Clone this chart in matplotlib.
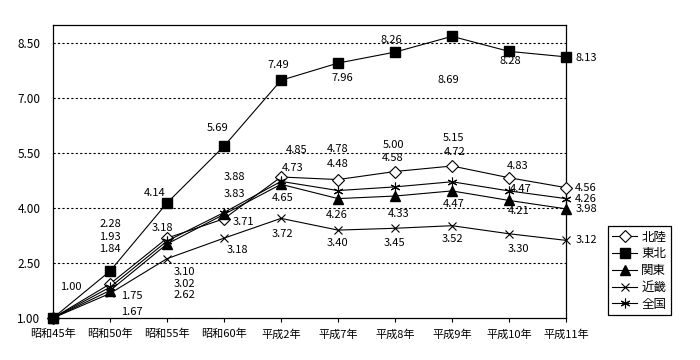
#!/usr/bin/env python3
"""Regional index chart (昭和45年 = 1.00) recreated with matplotlib."""

import matplotlib
matplotlib.use("Agg")
import matplotlib.pyplot as plt
import numpy as np

plt.rcParams["font.family"] = ["Noto Sans CJK JP", "DejaVu Sans"]

years = ["昭和45年", "昭和50年", "昭和55年", "昭和60年", "平成2年",
         "平成7年", "平成8年", "平成9年", "平成10年", "平成11年"]
hokuriku = [1.00, 1.93, 3.18, 3.71, 4.85, 4.78, 5.00, 5.15, 4.83, 4.56]
tohoku = [1.00, 2.28, 4.14, 5.69, 7.49, 7.96, 8.26, 8.69, 8.28, 8.13]
kanto = [1.00, 1.75, 3.02, 3.83, 4.65, 4.26, 4.33, 4.47, 4.21, 3.98]
kinki = [1.00, 1.67, 2.62, 3.18, 3.72, 3.40, 3.45, 3.52, 3.30, 3.12]
zenkoku = [1.00, 1.84, 3.10, 3.88, 4.73, 4.48, 4.58, 4.72, 4.47, 4.26]
y_ticks = [1.0, 2.5, 4.0, 5.5, 7.0, 8.5]

# label offsets in pixels (dx right, dy down) per series, per year; None = no label
LABEL_OFFSETS = {
    "北陸": [None, (0, -47), (-5, -10), (19, 3), (16, -27), (0, -31), (-2, -27), (1, -28), (9, -12), (20, 0)],
    "東北": [(18, -31), (0, -47), (-12, -10), (-6, -18), (-3, -15), (4, 15), (-4, -12), (-4, 44), (1, 10), (20, 1)],
    "関東": [None, (22, 5), (17, 40), (10, -20), (2, 14), (-1, 16), (4, 18), (2, 13), (10, 11), (20, 0)],
    "近畿": [None, (22, 19), (17, 36), (13, 12), (1, 16), (-1, 13), (-1, 15), (0, 13), (9, 15), (20, 0)],
    "全国": [None, (0, -38), (17, 31), (10, -36), (12, -13), (0, -27), (-2, -29), (3, -30), (12, -2), (20, 0)],
}


def main() -> None:
    fig = plt.figure(figsize=(7, 3.6), dpi=100)
    ax = fig.add_axes([53 / 700, 42 / 360, 513 / 700, 293 / 360])
    x = np.arange(len(years))

    series = [
        ("北陸", hokuriku, dict(marker="D", markersize=6, markerfacecolor="white", markeredgewidth=0.8)),
        ("東北", tohoku, dict(marker="s", markersize=7, markerfacecolor="black")),
        ("関東", kanto, dict(marker="^", markersize=7.5, markerfacecolor="black")),
        ("近畿", kinki, dict(marker="x", markersize=6, markeredgewidth=0.8)),
        ("全国", zenkoku, dict(marker=(6, 2, 0), markersize=7, markeredgewidth=0.8)),
    ]
    for name, vals, style in series:
        ax.plot(x, vals, color="black", linewidth=0.8, markeredgecolor="black",
                label=name, clip_on=False, zorder=3, **style)
        for i, v in enumerate(vals):
            off = LABEL_OFFSETS[name][i]
            if off is None:
                continue
            ax.annotate(f"{v:.2f}", (x[i], v), xytext=(off[0], -off[1]),
                        textcoords="offset pixels", ha="center", va="center",
                        fontsize=8, color="black")

    ax.set_xlim(0, len(years) - 1)
    ax.set_ylim(1, 9)
    ax.set_xticks(x)
    ax.set_xticklabels(years, fontsize=8)
    ax.set_yticks(y_ticks)
    ax.set_yticklabels([f"{t:.2f}" for t in y_ticks], fontsize=8.5)
    ax.tick_params(axis="y", length=0, pad=9)
    ax.tick_params(axis="x", length=3, width=0.8, direction="out", pad=5)
    for t in y_ticks[1:]:
        ax.axhline(t, color="black", linewidth=0.8, linestyle=(0, (2, 2)), zorder=1)
    for sp in ax.spines.values():
        sp.set_color("black")
        sp.set_linewidth(0.9)

    leg = fig.legend(loc="lower left", bbox_to_anchor=(608 / 700, 45 / 360),
                     fontsize=9, handlelength=2.0, handletextpad=0.3,
                     labelspacing=0.3, borderpad=0.35, borderaxespad=0,
                     fancybox=False, framealpha=1, edgecolor="black")
    leg.get_frame().set_linewidth(0.9)

    fig.savefig("out.png", dpi=100)
    plt.close(fig)


if __name__ == "__main__":
    main()
